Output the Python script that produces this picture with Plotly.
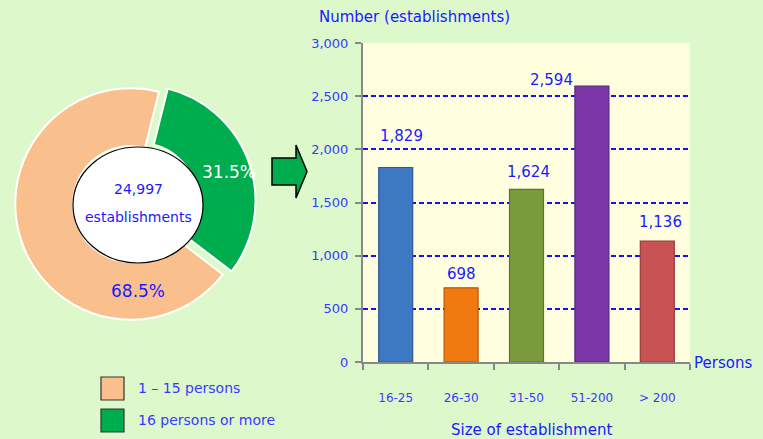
import plotly.graph_objects as go

# ---- data ----
size_groups = ["16-25", "26-30", "31-50", "51-200", "> 200"]
establishments = [1829, 698, 1624, 2594, 1136]
pie_labels = ["16 persons or more", "1 – 15 persons"]
pie_values = [7881, 17116]
total_establishments = 24997
y_ticks = [0, 500, 1000, 1500, 2000, 2500, 3000]

# styling
bar_colors = ["#3D78C2", "#F07A10", "#7A9B3C", "#7B36A8", "#C95352"]
bar_edges = ["#2A5A95", "#B85808", "#5A7528", "#5A2580", "#9A3A3A"]
label_xshift = [6, 0, 2, -40, 3]
label_yshift = [32, 14, 17, 6, 19]
pie_colors = ["#00AD4E", "#F9C08E"]

W, H = 763, 439
def px(x):
    return x / W
def py(y):
    return 1 - y / H

BLUE = "#1a1aff"
FONT = "DejaVu Sans"

fig = go.Figure()

fig.add_trace(go.Pie(
    labels=pie_labels, values=pie_values, sort=False, direction="clockwise",
    rotation=14, hole=0.5, pull=[0.08, 0],
    marker=dict(colors=pie_colors, line=dict(color="white", width=2)),
    textinfo="none", hoverinfo="label+percent", showlegend=False,
    domain=dict(x=[px(6), px(256)], y=[py(329), py(79)]),
))

fig.add_trace(go.Bar(
    x=size_groups, y=establishments, width=0.52,
    marker=dict(color=bar_colors, line=dict(color=bar_edges, width=1.2)),
    showlegend=False, xaxis="x", yaxis="y",
))

shapes = []
# white ellipse centre of donut
shapes.append(dict(type="circle", xref="paper", yref="paper",
                   x0=px(73), x1=px(203), y0=py(263), y1=py(147),
                   fillcolor="white", line=dict(color="black", width=1.2)))
# block arrow
ax = [272, 296, 296, 307, 296, 296, 272]
ay = [158, 158, 145, 171.5, 198, 185, 185]
path = "M " + " L ".join(f"{px(a)},{py(b)}" for a, b in zip(ax, ay)) + " Z"
shapes.append(dict(type="path", xref="paper", yref="paper", path=path,
                   fillcolor="#00AD4E", line=dict(color="black", width=1.5)))
# manual legend boxes
for i, c in enumerate(reversed(pie_colors)):
    y0 = 377 + i * 32
    shapes.append(dict(type="rect", xref="paper", yref="paper",
                       x0=px(101), x1=px(124), y0=py(y0 + 23), y1=py(y0),
                       fillcolor=c, line=dict(color="#333333", width=1.2)))

annotations = []
def note(x, y, text, color=BLUE, size=14, xanchor="center"):
    annotations.append(dict(x=px(x), y=py(y), xref="paper", yref="paper",
                            text=text, showarrow=False, xanchor=xanchor, yanchor="middle",
                            font=dict(color=color, size=size, family=FONT)))

# bar value labels
for cat, v, dx, dy in zip(size_groups, establishments, label_xshift, label_yshift):
    annotations.append(dict(x=cat, y=v, xref="x", yref="y", text=f"{v:,}",
                            showarrow=False, xanchor="center", yanchor="middle",
                            xshift=dx, yshift=dy,
                            font=dict(color=BLUE, size=15, family=FONT)))

for i, lab in enumerate(reversed(pie_labels)):
    note(136, 388 + i * 32, lab, color="#3a3aff", size=14, xanchor="left")
pct = [v / sum(pie_values) for v in pie_values]
note(229, 172, f"{pct[0]*100:.1f}%", color="white", size=17)
note(138, 291, f"{pct[1]*100:.1f}%", color=BLUE, size=17)
note(138, 189, f"{total_establishments:,}", size=14)
note(138, 217, "establishments", size=14)
note(317, 17, "Number (establishments)", size=15, xanchor="left")
note(692, 363, "Persons", size=15, xanchor="left")
note(531, 430, "Size of establishment", size=15)

fig.update_layout(
    width=W, height=H, margin=dict(l=0, r=0, t=0, b=0, pad=0, autoexpand=False),
    paper_bgcolor="#DDF8CB", plot_bgcolor="#FFFFE0",
    font=dict(family=FONT),
    xaxis=dict(domain=[px(363), px(690)], showgrid=False, showline=True,
               linecolor="#888888", linewidth=2, ticks="outside", tickcolor="#888888",
               ticklen=6, tickwidth=2, tickson="boundaries", ticklabelstandoff=24,
               automargin=False,
               tickfont=dict(color="#3a3aff", size=12, family=FONT), fixedrange=True),
    yaxis=dict(domain=[py(362), py(43)], range=[0, 3000], tickvals=y_ticks,
               tickformat=",d", showline=True, linecolor="#888888", linewidth=2,
               ticks="outside", tickcolor="#888888", ticklen=6, tickwidth=2,
               showgrid=True, gridcolor="#1010ff", gridwidth=1.5, griddash="5px,3px",
               zeroline=False, ticklabelstandoff=4, fixedrange=True, automargin=False,
               tickfont=dict(color="#3a3aff", size=13, family=FONT)),
    shapes=shapes, annotations=annotations,
)

fig.write_html(
    "out.html",
    config={"displayModeBar": False},
    post_script="document.body.style.margin='0';",
)
